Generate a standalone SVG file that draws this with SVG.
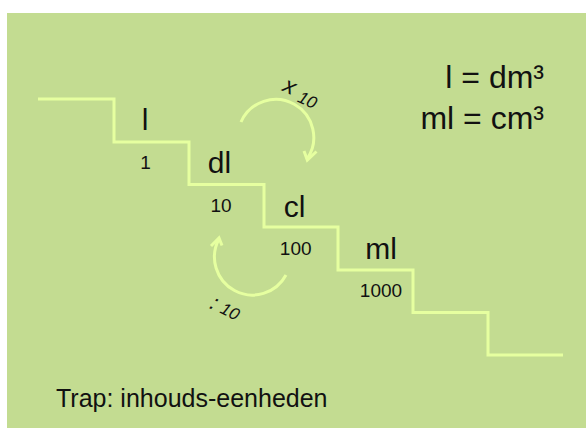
<svg xmlns="http://www.w3.org/2000/svg" width="586" height="428" viewBox="0 0 586 428">
<style>
.big{font-family:"Liberation Sans",Arial,sans-serif;font-size:30px;fill:#111;text-anchor:middle}
.num{font-family:"Liberation Sans",Arial,sans-serif;font-size:19px;fill:#111;text-anchor:middle}
.eq{font-family:"Liberation Sans",Arial,sans-serif;font-size:32px;fill:#111;text-anchor:end}
.it{font-family:"Liberation Sans",Arial,sans-serif;font-style:italic;fill:#111}
.line{fill:none;stroke:#e6ffa0;stroke-width:3;stroke-linejoin:miter}
</style>
<rect x="0" y="0" width="586" height="428" fill="#ffffff"/>
<rect x="7" y="13" width="579" height="415" fill="#c3dc91"/>
<g id="connectors">
<path class="line" d="M38,99 H114 V142 H189 V184.5 H264 V227 H338 V270 H413 V312.5 H488 V355 H563"/>
<path class="line" d="M241,122 A38,38 0 1 1 307,159"/>
<path class="line" d="M304,151 L307.3,160 L316.5,151.5"/>
<path class="line" d="M286,275 A38,38 0 1 1 219,239"/>
<path class="line" d="M222,245.5 L219,238 L211,246"/>
</g>
<g id="node-l"><text class="big" x="145" y="130">l</text><text class="num" x="145.5" y="169">1</text></g>
<g id="node-dl"><text class="big" x="219.5" y="173">dl</text><text class="num" x="221" y="212">10</text></g>
<g id="node-cl"><text class="big" x="294.5" y="216.5">cl</text><text class="num" x="295.7" y="255">100</text></g>
<g id="node-ml"><text class="big" x="381" y="258.5">ml</text><text class="num" x="381" y="297">1000</text></g>
<g id="label-times"><text class="it" transform="translate(281.6,90.4) rotate(25)"><tspan font-size="23">x</tspan><tspan font-size="17" dx="6.5" dy="3.5">10</tspan></text></g>
<g id="label-div"><text class="it" transform="translate(208.6,307.8) rotate(27)"><tspan font-size="22">:</tspan><tspan font-size="17" dx="5.2" dy="-0.7">10</tspan></text></g>
<g id="equivalences"><text class="eq" x="544" y="88">l = dm³</text><text class="eq" x="544" y="129">ml = cm³</text></g>
<g id="title"><text x="56" y="407" font-family="'Liberation Sans',Arial,sans-serif" font-size="25" fill="#111">Trap: inhouds-eenheden</text></g>
</svg>
